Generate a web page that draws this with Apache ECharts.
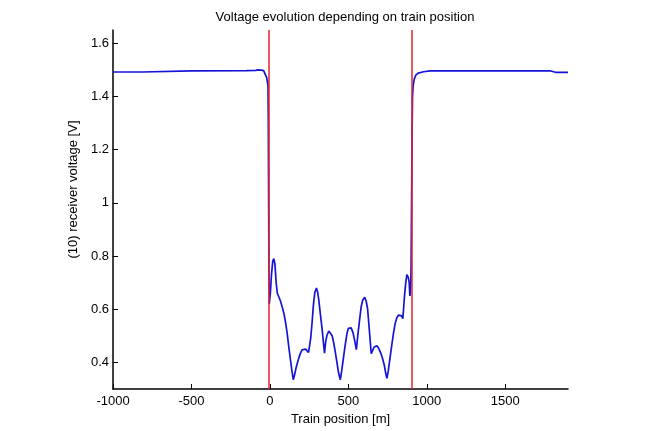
<!DOCTYPE html>
<html>
<head>
<meta charset="utf-8">
<script src="https://cdn.jsdelivr.net/npm/echarts@6/dist/echarts.min.js"></script>
<style>
  html, body { margin: 0; padding: 0; background: #fff; }
  #chart { width: 661px; height: 431px; }
</style>
</head>
<body>
<div id="chart"></div>
<script>
// train position [m]
const positions = [
  -1000, -810, -800, -500, -150, -90, -75, -55, -40, -30, -20, -12, -10, -8, -6, -4,
  3, 10, 18, 25, 32, 40, 47, 58, 68, 80, 89, 100, 110, 120, 131, 140, 149,
  156, 165, 174, 185, 195, 205, 216, 228, 238, 246, 252,
  260, 269, 278, 287, 297, 304, 311, 322, 333, 341, 348,
  356, 364, 375, 386, 397, 407, 418, 428, 438, 449,
  458, 470, 481, 492, 500, 508, 518, 530, 541, 551,
  560, 572, 582, 592, 604, 614, 623, 634, 646,
  655, 665, 674, 682, 694, 707, 718, 729, 738, 746,
  755, 767, 778, 788, 798, 809, 820, 830, 840, 847,
  852, 858, 866, 873, 877, 882, 888, 892, 895, 898, 900,
  903, 906, 909, 913, 920, 930, 945, 980, 1021, 1790, 1820, 1900
]
// receiver voltage [V]
const voltages = [
  1.492, 1.492, 1.496, 1.496, 1.497, 1.498, 1.5, 1.499, 1.497, 1.49, 1.47, 1.44, 1.3, 1.0, 0.75, 0.62,
  0.66, 0.73, 0.78, 0.79, 0.77, 0.7, 0.66, 0.645, 0.63, 0.605, 0.585, 0.55, 0.51, 0.46, 0.41, 0.37, 0.335,
  0.35, 0.375, 0.395, 0.418, 0.435, 0.447, 0.452, 0.45, 0.445, 0.437, 0.43,
  0.49, 0.55, 0.62, 0.665, 0.68, 0.665, 0.638, 0.58, 0.524, 0.475, 0.435,
  0.48, 0.502, 0.518, 0.52, 0.5, 0.473, 0.435, 0.397, 0.36, 0.335,
  0.37, 0.423, 0.47, 0.511, 0.528, 0.535, 0.53, 0.511, 0.48, 0.448,
  0.5, 0.562, 0.61, 0.635, 0.645, 0.63, 0.6, 0.52, 0.433,
  0.445, 0.458, 0.465, 0.463, 0.452, 0.435, 0.415, 0.39, 0.36, 0.34,
  0.37, 0.423, 0.47, 0.511, 0.545, 0.568, 0.578, 0.581, 0.575, 0.564,
  0.6, 0.651, 0.7, 0.73, 0.733, 0.72, 0.7, 0.65, 0.66, 0.7, 0.765,
  1.0, 1.25, 1.4, 1.44, 1.465, 1.48, 1.488, 1.493, 1.496, 1.496, 1.491, 1.491
]
// track circuit limits (red lines)
const limits = [-10, 905]
const xTicks = [-1000, -500, 0, 500, 1000, 1500]
const yTicks = [0.4, 0.6, 0.8, 1, 1.2, 1.4, 1.6]

const chart = echarts.init(document.getElementById('chart'))
const font = 'Liberation Sans, Arial, sans-serif'

chart.setOption({
  animation: false,
  title: {
    text: 'Voltage evolution depending on train position',
    left: 340,
    textAlign: 'center',
    top: 6,
    textStyle: { fontSize: 13, fontWeight: 'normal', color: '#000', fontFamily: font }
  },
  grid: { left: 113, right: 93, top: 30, bottom: 42 },
  xAxis: {
    type: 'value',
    min: -1000,
    max: 1900,
    name: 'Train position [m]',
    nameLocation: 'middle',
    nameGap: 20,
    nameTextStyle: { fontSize: 13, color: '#000', fontFamily: font },
    splitLine: { show: false },
    axisLine: { onZero: false, lineStyle: { color: '#000', width: 1.5 } },
    axisTick: { inside: true, length: 5, customValues: xTicks, lineStyle: { color: '#000' } },
    axisLabel: {
      customValues: xTicks,
      formatter: v => String(v),
      margin: 6,
      fontSize: 13,
      color: '#000',
      fontFamily: font
    }
  },
  yAxis: {
    type: 'value',
    min: 0.3,
    max: 1.65,
    name: '(10) receiver voltage [V]',
    nameLocation: 'middle',
    nameGap: 28,
    nameTextStyle: { fontSize: 13, color: '#000', fontFamily: font, padding: [0, 0, 0, 40] },
    splitLine: { show: false },
    axisLine: { show: true, onZero: false, lineStyle: { color: '#000', width: 1.5 } },
    axisTick: { show: true, inside: true, length: 5, customValues: yTicks, lineStyle: { color: '#000' } },
    axisLabel: {
      customValues: yTicks,
      formatter: v => String(v),
      margin: 4,
      fontSize: 13,
      color: '#000',
      fontFamily: font
    }
  },
  series: [
    {
      type: 'line',
      data: positions.map((x, i) => [x, voltages[i]]),
      showSymbol: false,
      lineStyle: { color: '#1414d8', width: 1.7 },
      markLine: {
        silent: true,
        symbol: 'none',
        label: { show: false },
        lineStyle: { color: '#e3242b', width: 1.5, type: 'solid' },
        data: limits.map(v => ({ xAxis: v }))
      },
      z: 3
    }
  ]
})
</script>
</body>
</html>
